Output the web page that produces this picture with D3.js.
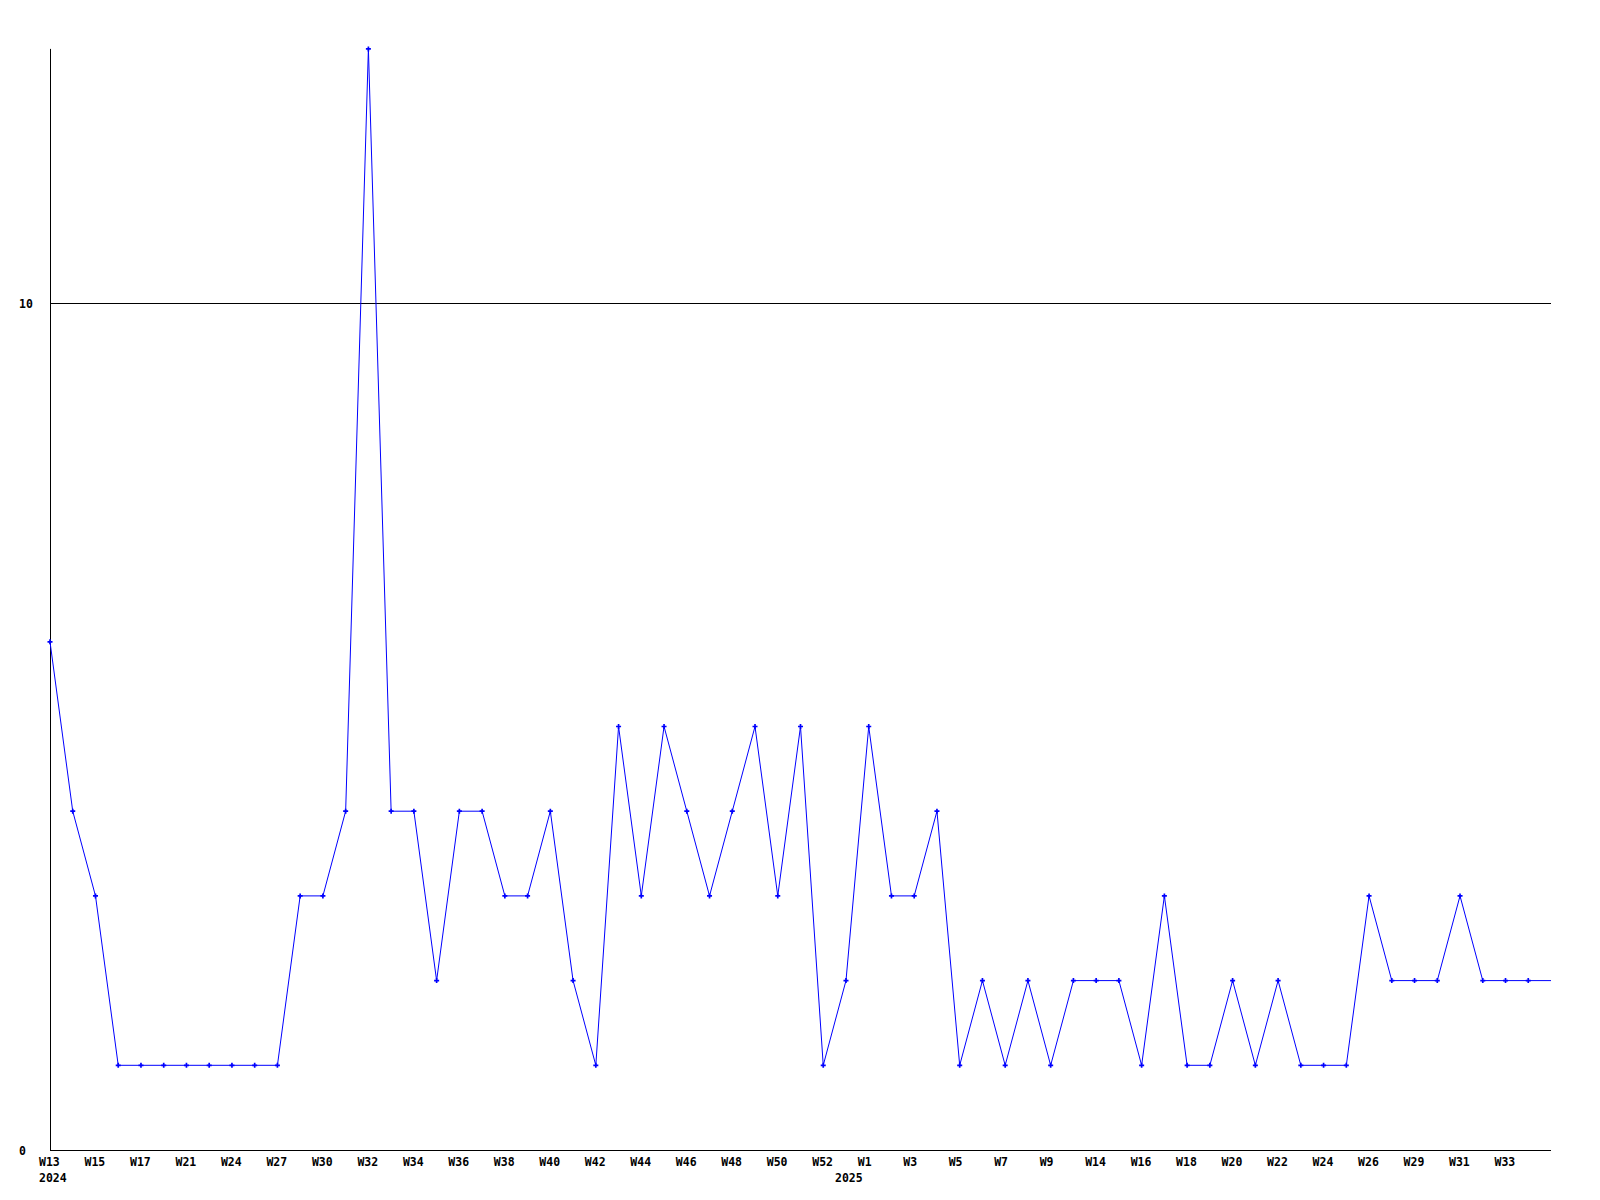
<!DOCTYPE html>
<html>
<head>
<meta charset="utf-8">
<script src="https://cdn.jsdelivr.net/npm/d3@7"></script>
<style>
  html, body { margin: 0; padding: 0; background: #fff; }
  text { font-family: "DejaVu Sans Mono", "Liberation Mono", monospace; font-weight: bold; font-size: 11.5px; fill: #000; }
</style>
</head>
<body>
<svg id="chart" width="1600" height="1200"></svg>
<script>
// Week labels (one per data point)
const weeks = [
  "W13","W14","W15","W16","W17","W19","W21","W22","W24","W25","W27","W28","W30","W31","W32","W33",
  "W34","W35","W36","W37","W38","W39","W40","W41","W42","W43","W44","W45","W46","W47","W48","W49",
  "W50","W51","W52","W0","W1","W2","W3","W4","W5","W6","W7","W8","W9","W12","W14","W15",
  "W16","W17","W18","W19","W20","W21","W22","W23","W24","W25","W26","W28","W29","W30","W31","W32",
  "W33","W34","W35"
];
// Year of each point
const years = [
  2024,2024,2024,2024,2024,2024,2024,2024,2024,2024,2024,2024,2024,2024,2024,2024,
  2024,2024,2024,2024,2024,2024,2024,2024,2024,2024,2024,2024,2024,2024,2024,2024,
  2024,2024,2024,2025,2025,2025,2025,2025,2025,2025,2025,2025,2025,2025,2025,2025,
  2025,2025,2025,2025,2025,2025,2025,2025,2025,2025,2025,2025,2025,2025,2025,2025,
  2025,2025,2025
];
// Counts per week
const values = [
  6,4,3,1,1,1,1,1,1,1,1,3,3,4,13,4,
  4,2,4,4,3,3,4,2,1,5,3,5,4,3,4,5,
  3,5,1,2,5,3,3,4,1,2,1,2,1,2,2,2,
  1,3,1,1,2,1,2,1,1,1,3,2,2,2,3,2,
  2,2,2
];
// Y tick values
const yTicks = [0, 10];

const svg = d3.select("#chart");
const idx = d3.range(values.length);

const x = d3.scalePoint().domain(idx).range([50, 1551]);
const y = d3.scaleLinear().domain([0, 10]).range([1150, 303]);

// gridline at 10 & axes
svg.append("g").selectAll("line.grid")
  .data(yTicks.filter(t => t !== 0))
  .join("line")
  .attr("x1", 50).attr("x2", 1551)
  .attr("y1", d => Math.round(y(d)) + 0.5).attr("y2", d => Math.round(y(d)) + 0.5)
  .attr("stroke", "#000").attr("stroke-width", 1);

svg.append("line")
  .attr("x1", 50.5).attr("x2", 50.5)
  .attr("y1", y(13)).attr("y2", 1150)
  .attr("stroke", "#000").attr("stroke-width", 1);
svg.append("line")
  .attr("x1", 50).attr("x2", 1551)
  .attr("y1", 1150.5).attr("y2", 1150.5)
  .attr("stroke", "#000").attr("stroke-width", 1);

// y labels
svg.append("g").selectAll("text")
  .data(yTicks)
  .join("text")
  .attr("x", 19)
  .attr("y", d => y(d) + 1)
  .attr("dominant-baseline", "middle")
  .text(d => d);

// x labels (every other point)
svg.append("g").selectAll("text")
  .data(idx.filter(i => i % 2 === 0 && i < values.length - 1))
  .join("text")
  .attr("x", i => x(i) - 11)
  .attr("y", 1162)
  .attr("dominant-baseline", "middle")
  .text(i => weeks[i]);

// year labels where year changes
svg.append("g").selectAll("text")
  .data(idx.filter(i => i === 0 || years[i] !== years[i - 1]))
  .join("text")
  .attr("x", i => x(i) - 11)
  .attr("y", 1178)
  .attr("dominant-baseline", "middle")
  .text(i => years[i]);

// line
const line = d3.line().x(i => x(i)).y(i => y(values[i]));
svg.append("path")
  .datum(idx)
  .attr("d", line)
  .attr("fill", "none")
  .attr("stroke", "#0000ff")
  .attr("stroke-width", 1);

// markers
const sym = d3.symbol().type(d3.symbolCross).size(14);
svg.append("g").selectAll("path")
  .data(idx.slice(0, -1))
  .join("path")
  .attr("transform", i => `translate(${x(i)},${y(values[i])})`)
  .attr("d", sym)
  .attr("fill", "#0000ff");
</script>
</body>
</html>
